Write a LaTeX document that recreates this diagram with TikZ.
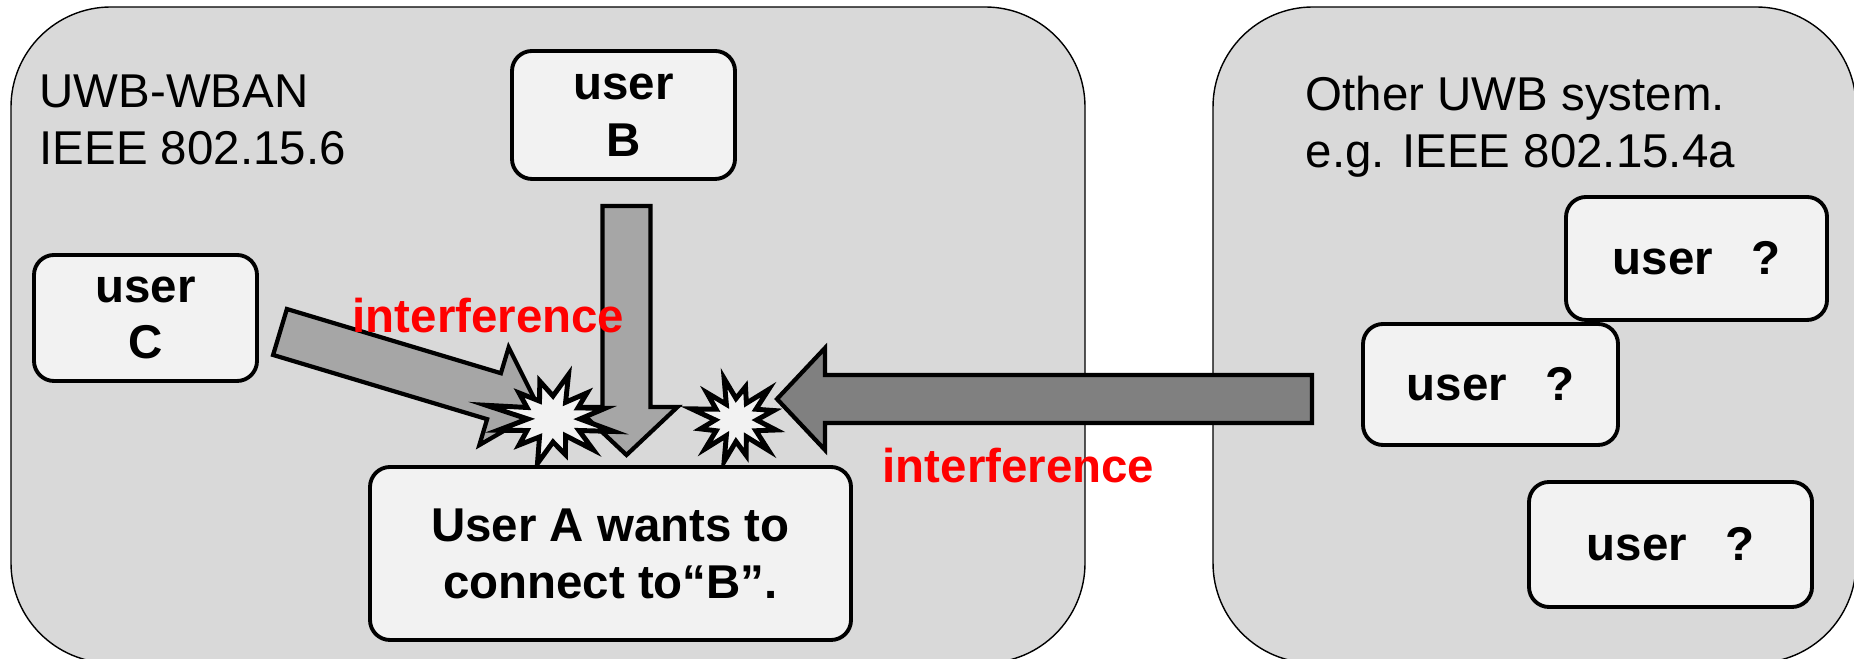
\documentclass[tikz,border=0pt]{standalone}
\usepackage{fontspec}
\setmainfont{Liberation Sans}
\usetikzlibrary{calc}
\definecolor{panelgray}{HTML}{D9D9D9}
\definecolor{boxgray}{HTML}{F2F2F2}
\definecolor{arrowgray}{HTML}{A6A6A6}
\definecolor{darkarrow}{HTML}{808080}
\tikzset{panel/.style={draw, line width=0.4pt, fill=panelgray, rounded corners=1cm}}
\tikzset{systext/.style={anchor=north west, inner sep=0pt, align=left, font=\fontsize{13.5}{16.2}\selectfont}}
\tikzset{userbox/.style={draw, line width=1.1pt, fill=boxgray, rounded corners=0.2cm, align=center, inner sep=0pt, font=\fontsize{13.5}{16.2}\selectfont\bfseries}}
\tikzset{fat arrow/.style={draw, line width=1.2pt, miter limit=10}}
\tikzset{burst/.style={draw, line width=1.4pt, fill=boxgray, miter limit=10}}
\tikzset{interf/.style={anchor=base west, inner sep=0pt, text=red, font=\fontsize{13.5}{16.2}\selectfont\bfseries}}
% block arrow: tail, tip, fill colour
\newcommand{\fatarrow}[3]{%
  \coordinate (neck) at ($(#2)!0.48cm!(#1)$);
  \draw[fat arrow, fill=#3] ($(#1)!0.24cm!90:(#2)$) -- ($(neck)!0.24cm!90:(#2)$)
    -- ($(neck)!0.51cm!90:(#2)$) -- (#2) -- ($(neck)!0.51cm!-90:(#2)$)
    -- ($(neck)!0.24cm!-90:(#2)$) -- ($(#1)!0.24cm!-90:(#2)$) -- cycle;}
% explosion: centre, x radius, y radius, radii (23 points, 15 degrees apart)
\newcommand{\burst}[4]{%
  \draw[burst] ($(#1)+(0:0.45*#2 and 0.45*#3)$)
    \foreach \r [count=\i] in {#4} { -- ($(#1)+({\i*15}:{\r*#2} and {\r*#3})$) } -- cycle;}

\begin{document}
\begin{tikzpicture}
\useasboundingbox (0,0) rectangle (18.54,6.59);
% the two systems
\draw[panel] (0.11,-0.04) rectangle (10.85,6.52);
\draw[panel] (12.13,-0.04) rectangle (18.56,6.52);
\node[systext] (wban) at (0.39,5.85) {UWB-WBAN\\IEEE 802.15.6};
\node[systext] (other) at (13.05,5.84) {Other UWB system.\\e.g. IEEE 802.15.4a};

% arrow ends
\coordinate (cTail) at (2.80,3.27);
\coordinate (cTip) at (5.40,2.49);
\coordinate (bTail) at (6.265,4.53);
\coordinate (bTip) at (6.265,2.04);
\coordinate (oTail) at (13.12,2.60);
\coordinate (oTip) at (7.77,2.60);
\fatarrow{cTail}{cTip}{arrowgray}
\fatarrow{bTail}{bTip}{arrowgray}
\fatarrow{oTail}{oTip}{darkarrow}

% collisions
\coordinate (burstL) at (5.53,2.40);
\coordinate (burstR) at (7.36,2.39);
\burst{burstL}{0.6}{0.46}{0.9,0.48,0.8,0.42,1.0,0.5,0.85,0.45,0.8,0.5,1.15,0.42,0.95,0.5,0.8,0.45,1.0,0.5,0.8,0.42,0.95,0.5,1.05}
\burst{burstR}{0.46}{0.43}{0.85,0.5,1.0,0.45,0.8,0.5,1.0,0.42,0.9,0.5,1.0,0.45,0.8,0.5,0.95,0.42,1.0,0.5,0.85,0.45,1.0,0.5,0.9}

\node[interf] (intC) at (3.52,3.26) {interference};
\node[interf] (intO) at (8.82,1.76) {interference};

% users
\node[userbox, minimum width=2.23cm, minimum height=1.28cm] (userB) at (6.235,5.44) {user\\B};
\node[userbox, minimum width=2.23cm, minimum height=1.26cm] (userC) at (1.455,3.41) {user\\C};
\node[userbox, minimum width=4.81cm, minimum height=1.73cm] (userA) at (6.105,1.055) {User A wants to\\connect to“B”.};
\node[userbox, minimum width=2.61cm, minimum height=1.23cm] (unk1) at (16.965,4.005) {user\hspace{0.8em}?};
\node[userbox, minimum width=2.55cm, minimum height=1.21cm] (unk2) at (14.905,2.745) {user\hspace{0.8em}?};
\node[userbox, minimum width=2.83cm, minimum height=1.25cm] (unk3) at (16.705,1.145) {user\hspace{0.8em}?};
\end{tikzpicture}
\end{document}
